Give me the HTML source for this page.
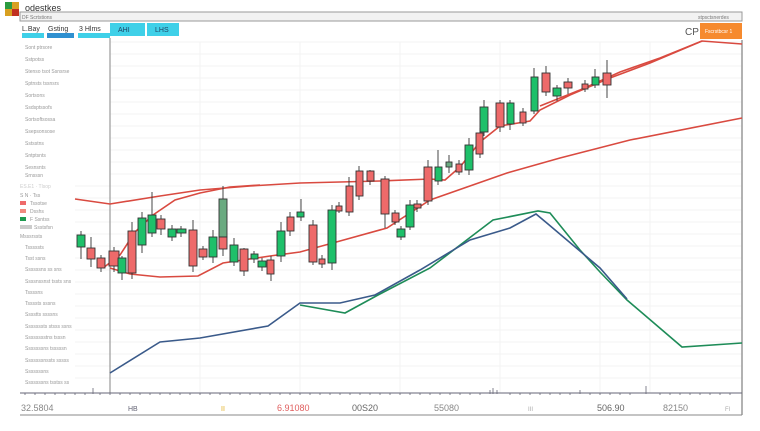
<!DOCTYPE html>
<html><head><meta charset="utf-8"><style>
body{margin:0;width:760px;height:426px;background:#fff;overflow:hidden;font-family:"Liberation Sans",sans-serif}
</style></head><body>
<svg width="760" height="426" viewBox="0 0 760 426" xmlns="http://www.w3.org/2000/svg" font-family="Liberation Sans, sans-serif">
<rect x="5" y="2" width="14" height="14" fill="#d8a020"/><rect x="5" y="2" width="7" height="7" fill="#2a9a40"/><rect x="12" y="9" width="7" height="7" fill="#c03020"/>
<text x="25" y="11" font-size="9" fill="#333">odestkes</text>
<rect x="20" y="12" width="722" height="9" fill="#f2f2f2" stroke="#999" stroke-width="1"/>
<text x="22" y="19" font-size="5" fill="#777">DF Scrtstions</text>
<text x="698" y="19" font-size="5" fill="#777">stpsctsnerdes</text>
<text x="22" y="31" font-size="7" fill="#333">L.Bay</text>
<text x="48" y="31" font-size="7" fill="#333">Gsting</text>
<text x="79" y="31" font-size="7" fill="#333">3 Hlms</text>
<rect x="110" y="23" width="35" height="13" fill="#3fd0e8"/><text x="118" y="32" font-size="7" fill="#246">AHI</text>
<rect x="147" y="23" width="32" height="13" fill="#3fd0e8"/><text x="155" y="32" font-size="7" fill="#246">LHS</text>
<rect x="22" y="33" width="22" height="5" fill="#3fd0e8"/><rect x="47" y="33" width="27" height="5" fill="#2f90d0"/><rect x="78" y="33" width="32" height="5" fill="#3fd0e8"/>
<text x="685" y="35" font-size="10" fill="#555">CP</text>
<rect x="700" y="23" width="42" height="16" fill="#f68a2e"/><text x="705" y="33" font-size="5" fill="#fff">Fscrstbcsr 1</text>
<!-- grid -->
<g stroke="#f3f3f3" stroke-width="1">
<line x1="110" y1="42" x2="742" y2="42"/><line x1="110" y1="54" x2="742" y2="54"/><line x1="110" y1="66" x2="742" y2="66"/><line x1="110" y1="78" x2="742" y2="78"/><line x1="110" y1="90" x2="742" y2="90"/><line x1="110" y1="102" x2="742" y2="102"/><line x1="110" y1="114" x2="742" y2="114"/><line x1="110" y1="126" x2="742" y2="126"/><line x1="110" y1="138" x2="742" y2="138"/><line x1="110" y1="150" x2="742" y2="150"/><line x1="110" y1="162" x2="742" y2="162"/><line x1="110" y1="174" x2="742" y2="174"/><line x1="75" y1="186" x2="742" y2="186"/><line x1="75" y1="198" x2="742" y2="198"/><line x1="75" y1="210" x2="742" y2="210"/><line x1="75" y1="222" x2="742" y2="222"/><line x1="75" y1="234" x2="742" y2="234"/><line x1="75" y1="246" x2="742" y2="246"/><line x1="75" y1="258" x2="742" y2="258"/><line x1="75" y1="270" x2="742" y2="270"/><line x1="75" y1="282" x2="742" y2="282"/><line x1="75" y1="294" x2="742" y2="294"/><line x1="75" y1="306" x2="742" y2="306"/><line x1="75" y1="318" x2="742" y2="318"/><line x1="75" y1="330" x2="742" y2="330"/><line x1="75" y1="342" x2="742" y2="342"/><line x1="75" y1="354" x2="742" y2="354"/><line x1="75" y1="366" x2="742" y2="366"/><line x1="75" y1="378" x2="742" y2="378"/>
<line x1="200" y1="42" x2="200" y2="393"/><line x1="300" y1="42" x2="300" y2="393"/><line x1="400" y1="42" x2="400" y2="393"/><line x1="500" y1="42" x2="500" y2="393"/><line x1="600" y1="42" x2="600" y2="393"/><line x1="650" y1="42" x2="650" y2="393"/>
</g>
<line x1="742" y1="40" x2="742" y2="415" stroke="#999" stroke-width="1.5"/>
<line x1="110" y1="38" x2="110" y2="393" stroke="#999" stroke-width="1.2"/>
<!-- sidebar text -->
<g font-size="5" fill="#999">
<text x="25" y="49">Sont ptrsore</text><text x="25" y="61">Sstpotss</text><text x="25" y="73">Stenso tsot Ssnsrse</text><text x="25" y="85">Sptnsts tssnsrs</text><text x="25" y="97">Sortsons</text><text x="25" y="109">Ssdsptssofs</text><text x="25" y="121">Sortsoftsossa</text><text x="25" y="133">Ssepsonsose</text><text x="25" y="145">Sstsstns</text><text x="25" y="157">Sntptsnts</text><text x="25" y="169">Sesnsnts</text><text x="25" y="177">Srnsssn</text>
<text x="20" y="188" fill="#ccc">ES.E1 · Tlsop</text><text x="20" y="197">S N · Tss</text>
<rect x="20" y="201" width="6" height="4" fill="#ee6a6a"/><text x="30" y="205">Tssotse</text>
<rect x="20" y="209" width="6" height="4" fill="#f08a80"/><text x="30" y="213">Dsshs</text>
<rect x="20" y="217" width="6" height="4" fill="#1e9a50"/><text x="30" y="221">F Ssntss</text>
<rect x="20" y="225" width="12" height="4" fill="#ccc"/><text x="34" y="229">Ssstsfsn</text>
<text x="20" y="238">Msssrssts</text>
<text x="25" y="249">Tsssssts</text><text x="25" y="260">Tsst ssns</text><text x="25" y="271">Ssssssns ss sns</text><text x="25" y="283">Ssssnssnst tssts sns</text><text x="25" y="294">Tssssns</text><text x="25" y="305">Tssssts sssns</text><text x="25" y="316">Sssstts ssssns</text><text x="25" y="328">Sssssssts stsss ssns</text><text x="25" y="339">Sssssssstns tsssn</text><text x="25" y="350">Sssssssns tsssssn</text><text x="25" y="362">Sssssssnssts sssss</text><text x="25" y="373">Sssssssns</text><text x="25" y="384">Sssssssns tsstss ss</text>
</g>
<!-- bottom axis -->
<line x1="20" y1="393" x2="742" y2="393" stroke="#667" stroke-width="1"/>
<g stroke="#667" stroke-width="0.8">
<path d="M25 393v2M35 393v2M45 393v2M55 393v2M65 393v2M75 393v2M85 393v2M93 388v6M100 393v2M110 393v2M120 393v2M130 393v2M140 393v2M150 393v2M160 393v2M170 393v2M180 393v2M190 393v2M200 393v2M210 393v2M220 393v2M230 393v2M240 393v2M250 393v2M260 393v2M270 393v2M280 393v2M290 393v2M300 393v2M310 393v2M320 393v2M330 393v2M340 393v2M350 393v2M360 393v2M370 393v2M380 393v2M390 393v2M400 393v2M410 393v2M420 393v2M430 393v2M440 393v2M450 393v2M460 393v2M470 393v2M480 393v2M490 390v4M493 388v6M497 390v4M510 393v2M520 393v2M530 393v2M540 393v2M550 393v2M560 393v2M570 393v2M580 390v4M590 393v2M600 393v2M610 393v2M620 393v2M630 393v2M646 386v8M660 393v2M670 393v2M680 393v2M690 393v2M700 393v2M710 393v2M720 393v2M730 393v2"/>
</g>
<line x1="20" y1="415" x2="742" y2="415" stroke="#888" stroke-width="1"/>
<g font-size="9" fill="#888">
<text x="21" y="411">32.5804</text><text x="128" y="411" font-size="7" fill="#667">HB</text><text x="221" y="411" font-size="7" fill="#e0b020">II</text>
<text x="277" y="411" fill="#e06060">6.91080</text><text x="352" y="411" fill="#666">00S20</text><text x="434" y="411">55080</text><text x="528" y="411" font-size="6" fill="#aaa">III</text><text x="597" y="411" fill="#666">506.90</text><text x="663" y="411">82150</text><text x="725" y="411" font-size="6" fill="#aaa">Fl</text>
</g>
<!-- lines -->
<g fill="none" stroke-width="1.6">
<polyline stroke="#d94a40" points="75,199 110,204 160,196 200,190 250,186 300,183 380,181 430,179 445,180 460,167 480,142 500,126 530,121 540,110 570,95 610,78 650,63 702,41 742,44"/>
<polyline stroke="#d94a40" points="540,106 580,90 620,72 660,58 702,41"/>
<polyline stroke="#d94a40" points="103,268 120,255 135,232 153,215 175,200 200,193 230,187 260,185"/>
<polyline stroke="#d94a40" points="110,268 130,274 160,277 198,276 223,263 270,256 300,252 340,241 387,228 430,200 507,173 560,158 630,140 742,118"/>
<polyline stroke="#1e8c58" points="300,305 345,313 378,295 430,268 493,220 538,211 550,213 580,250 600,272 627,300 682,347 742,343"/>
<polyline stroke="#3a5a8a" points="110,373 160,342 200,338 268,326 300,303 340,303 375,295 420,270 470,240 510,228 536,214 548,224 600,268 627,299"/>
</g>
<!-- candles -->
<g stroke="#333" stroke-width="0.9">
<path d="M81 231v28M91 237v30M101 255v17M114 247v25M122 256v24M132 222v57M142 212v41M152 192v45M161 215v20M172 225v16M181 226v11M193 220v52M203 246v14M213 230v33M223 186v70M234 238v28M244 248v28M254 251v12M262 258v13M271 256v25M281 222v40M290 212v24M301 199v22M313 220v45M322 255v13M332 205v65M339 202v11M349 177v39M359 166v34M370 170v15M385 176v52M395 210v15M401 226v14M410 200v30M417 200v12M428 160v45M438 150v35M449 155v18M459 160v15M469 138v37M480 128v30M484 100v36M500 100v32M510 100v30M523 108v18M534 68v46M546 66v30M557 85v16M568 78v16M585 80v12M595 69v19M607 60v38"/>
</g>
<g stroke="#333" stroke-width="0.9">
<rect x="77" y="235" width="8" height="12" fill="#1ec06a"/>
<rect x="87" y="248" width="8" height="11" fill="#ee6a6a"/>
<rect x="97" y="258" width="8" height="10" fill="#ee6a6a"/>
<rect x="109" y="251" width="10" height="15" fill="#ee6a6a"/>
<rect x="118" y="258" width="8" height="15" fill="#1ec06a"/>
<rect x="128" y="231" width="8" height="42" fill="#ee6a6a"/>
<rect x="138" y="218" width="8" height="27" fill="#1ec06a"/>
<rect x="148" y="215" width="8" height="18" fill="#1ec06a"/>
<rect x="157" y="219" width="8" height="10" fill="#ee6a6a"/>
<rect x="168" y="229" width="8" height="8" fill="#1ec06a"/>
<rect x="177" y="229" width="9" height="4" fill="#1ec06a"/>
<rect x="189" y="230" width="8" height="36" fill="#ee6a6a"/>
<rect x="199" y="249" width="8" height="8" fill="#ee6a6a"/>
<rect x="209" y="237" width="8" height="20" fill="#1ec06a"/>
<rect x="219" y="199" width="8" height="38" fill="#6aaa80"/>
<rect x="219" y="237" width="8" height="12" fill="#ee6a6a"/>
<rect x="230" y="245" width="8" height="17" fill="#1ec06a"/>
<rect x="240" y="249" width="8" height="22" fill="#ee6a6a"/>
<rect x="251" y="254" width="7" height="5" fill="#1ec06a"/>
<rect x="258" y="261" width="8" height="6" fill="#1ec06a"/>
<rect x="267" y="260" width="7" height="14" fill="#ee6a6a"/>
<rect x="277" y="231" width="8" height="25" fill="#1ec06a"/>
<rect x="287" y="217" width="7" height="14" fill="#ee6a6a"/>
<rect x="297" y="212" width="7" height="5" fill="#1ec06a"/>
<rect x="309" y="225" width="8" height="37" fill="#ee6a6a"/>
<rect x="319" y="259" width="6" height="5" fill="#ee6a6a"/>
<rect x="328" y="210" width="8" height="53" fill="#1ec06a"/>
<rect x="336" y="206" width="6" height="5" fill="#ee6a6a"/>
<rect x="346" y="186" width="7" height="26" fill="#ee6a6a"/>
<rect x="356" y="171" width="7" height="25" fill="#ee6a6a"/>
<rect x="367" y="171" width="7" height="10" fill="#ee6a6a"/>
<rect x="381" y="179" width="8" height="35" fill="#ee6a6a"/>
<rect x="392" y="213" width="7" height="9" fill="#ee6a6a"/>
<rect x="397" y="229" width="8" height="8" fill="#1ec06a"/>
<rect x="406" y="205" width="8" height="22" fill="#1ec06a"/>
<rect x="414" y="204" width="7" height="4" fill="#ee6a6a"/>
<rect x="424" y="167" width="8" height="34" fill="#ee6a6a"/>
<rect x="435" y="167" width="7" height="14" fill="#1ec06a"/>
<rect x="446" y="162" width="6" height="5" fill="#6aaa80"/>
<rect x="456" y="164" width="6" height="8" fill="#ee6a6a"/>
<rect x="465" y="145" width="8" height="25" fill="#1ec06a"/>
<rect x="476" y="133" width="7" height="21" fill="#ee6a6a"/>
<rect x="480" y="107" width="8" height="25" fill="#1ec06a"/>
<rect x="496" y="103" width="8" height="24" fill="#ee6a6a"/>
<rect x="507" y="103" width="7" height="21" fill="#1ec06a"/>
<rect x="520" y="112" width="6" height="11" fill="#ee6a6a"/>
<rect x="531" y="77" width="7" height="34" fill="#1ec06a"/>
<rect x="542" y="73" width="8" height="19" fill="#ee6a6a"/>
<rect x="553" y="88" width="8" height="8" fill="#1ec06a"/>
<rect x="564" y="82" width="8" height="6" fill="#ee6a6a"/>
<rect x="582" y="84" width="6" height="5" fill="#ee6a6a"/>
<rect x="592" y="77" width="7" height="8" fill="#1ec06a"/>
<rect x="603" y="73" width="8" height="12" fill="#ee6a6a"/>
</g>
</svg>
</body></html>
